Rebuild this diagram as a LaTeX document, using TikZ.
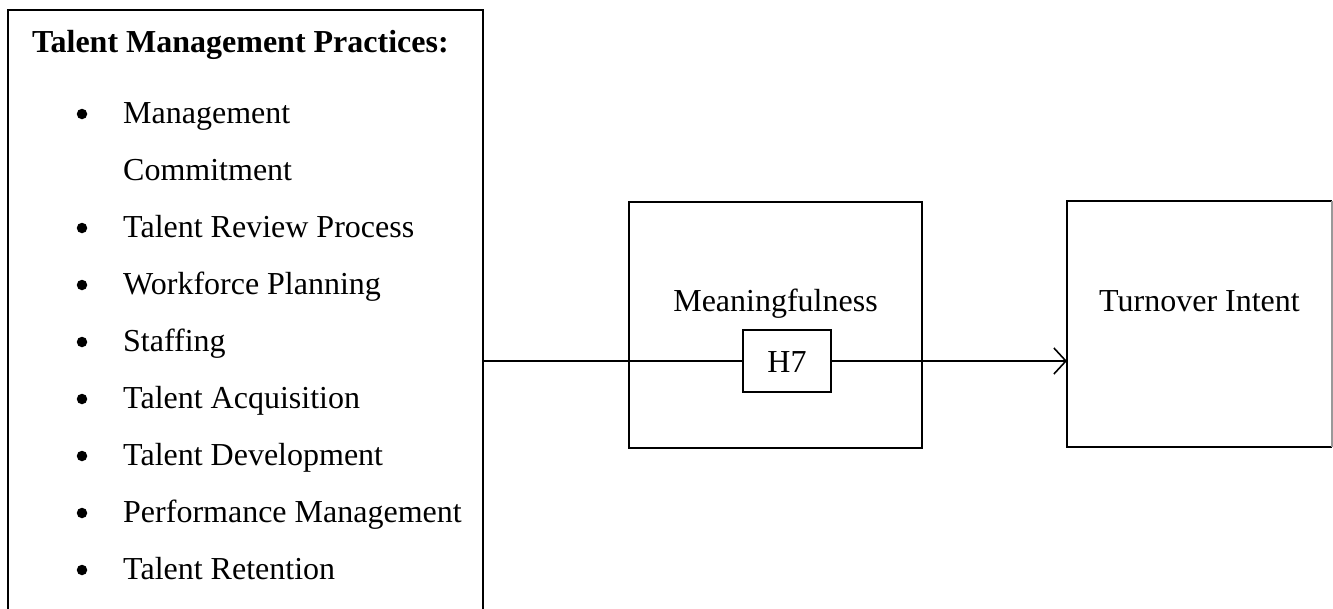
\documentclass[tikz,border=0pt]{standalone}
\usepackage{fontspec}
\setmainfont{Liberation Serif}
\usetikzlibrary{arrows.meta}
\begin{document}
\begin{tikzpicture}[x=1pt,y=-1pt,
  box/.style={draw=black,line width=1.6pt},
  lbl/.style={inner sep=0pt,anchor=base,font=\fontsize{32}{36}\selectfont},
  item/.style={inner sep=0pt,anchor=base west,font=\fontsize{32}{36}\selectfont},
  bul/.style={circle,fill=black,inner sep=0pt,minimum size=10.5pt},
  conn/.style={line width=1.6pt}]
\useasboundingbox (0,0) rectangle (1333,608);
\clip (0,0) rectangle (1333,608);
% left box (bottom edge lies below the picture)
\draw[box] (8,640) -- (8,10) -- (483,10) -- (483,640);
\coordinate (lr) at (483,361);
\node[item,font=\fontsize{32}{36}\selectfont\bfseries] (title) at (32,52) {Talent Management Practices:};
\foreach \t/\y/\b [count=\i] in {Management/123/1,Commitment/180/0,Talent Review Process/237/1,Workforce Planning/294/1,Staffing/351/1,Talent Acquisition/408/1,Talent Development/465/1,Performance Management/522/1,Talent Retention/579/1}{
  \node[item] (it\i) at (123,\y) {\t};
  \ifnum\b=1 \node[bul] (b\i) at (82,\y-9) {};\fi
}
% meaningfulness box
\node[box,minimum width=293pt,minimum height=246pt,inner sep=0pt] (mean) at (775.5,325) {};
\node[lbl] (meantxt) at (775.5,311) {Meaningfulness};
% H7 box
\node[box,minimum width=88pt,minimum height=62pt,inner sep=0pt] (h7) at (787,361) {};
\node[lbl] (h7txt) at (787,372) {H7};
% turnover box
\draw[box] (1332,201) -- (1067,201) -- (1067,447) -- (1332,447);
\draw[line width=1.6pt,black!40] (1332,201) -- (1332,447);
\coordinate (tl) at (1067,361);
\node[lbl] (turn) at (1199.5,311) {Turnover Intent};
% connector
\draw[conn] (lr) -- (h7.west);
\draw[conn,-{Straight Barb[length=12pt,width=26pt,line width=1.6pt]}] (h7.east) -- (tl);
\end{tikzpicture}
\end{document}
